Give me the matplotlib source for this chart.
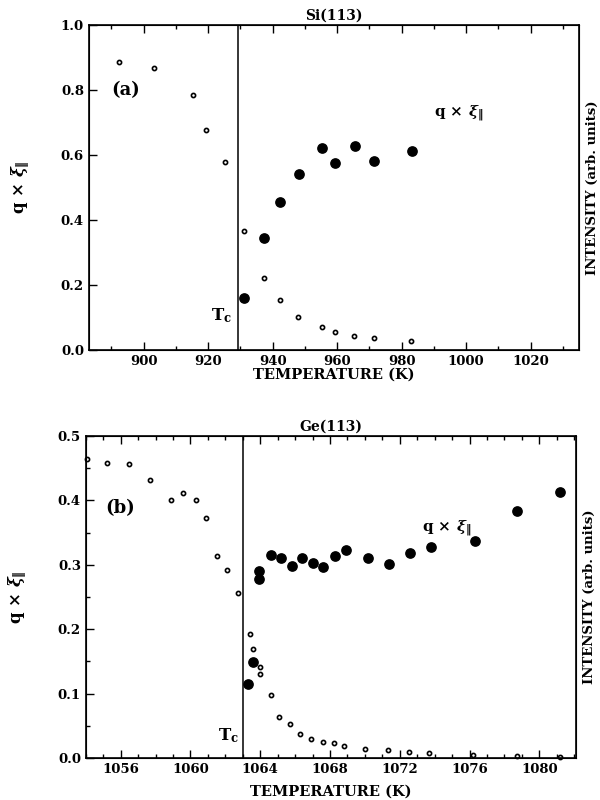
import numpy as np
import matplotlib
matplotlib.use('Agg')
import matplotlib.pyplot as plt
from matplotlib.ticker import MultipleLocator

plt.rcParams['font.family'] = 'DejaVu Serif'
plt.rcParams['font.weight'] = 'bold'
plt.rcParams['mathtext.fontset'] = 'dejavuserif'

# Si(113) - intensity (open circles)
si_int_T = [892.3, 903.1, 915.4, 919.4, 925.3, 931.1, 937.3, 942.3, 948.0, 955.2, 959.2, 965.1, 971.3, 983.0]
si_int_y = [0.886, 0.867, 0.785, 0.678, 0.579, 0.366, 0.221, 0.155, 0.101, 0.070, 0.055, 0.043, 0.036, 0.028]
# Si(113) - q x xi (filled circles)
si_q_T = [931.0, 937.3, 942.3, 948.1, 955.2, 959.2, 965.4, 971.3, 983.3]
si_q_y = [0.160, 0.344, 0.455, 0.541, 0.622, 0.575, 0.628, 0.582, 0.613]
si_Tc = 929.3

# Ge(113) - intensity
ge_int_T = [1054.06, 1055.2, 1056.5, 1057.7, 1058.9, 1059.6, 1060.3, 1060.9, 1061.5, 1062.1, 1062.7,
            1063.4, 1063.6, 1064.0, 1064.0, 1064.6, 1065.1, 1065.7, 1066.3, 1066.9, 1067.6, 1068.2,
            1068.8, 1070.0, 1071.3, 1072.5, 1073.7, 1076.2, 1078.7, 1081.2]
ge_int_y = [0.464, 0.458, 0.456, 0.431, 0.400, 0.412, 0.400, 0.372, 0.313, 0.292, 0.256,
            0.193, 0.169, 0.141, 0.130, 0.098, 0.064, 0.053, 0.037, 0.029, 0.025, 0.024,
            0.018, 0.0145, 0.0124, 0.0093, 0.0078, 0.0042, 0.003, 0.0016]
# Ge(113) - q x xi
ge_q_T = [1063.3, 1063.6, 1063.9, 1063.9, 1064.6, 1065.2, 1065.8, 1066.4, 1067.0, 1067.6, 1068.3,
          1068.9, 1070.2, 1071.4, 1072.6, 1073.8, 1076.3, 1078.7, 1081.2]
ge_q_y = [0.115, 0.149, 0.278, 0.290, 0.315, 0.311, 0.298, 0.311, 0.303, 0.297, 0.313,
          0.323, 0.310, 0.302, 0.319, 0.328, 0.337, 0.383, 0.413]
ge_Tc = 1063.0

qlabel = r'q $\times$ $\xi_{\Vert}$'

fig = plt.figure(figsize=(6, 8), dpi=100)
ax1 = fig.add_axes([0.148, 0.5625, 0.817, 0.40625])
ax2 = fig.add_axes([0.143, 0.0525, 0.817, 0.4025])


def style(ax):
    ax.tick_params(which='both', direction='in', top=True, right=False, labelsize=9.5, width=1)
    ax.tick_params(which='major', length=6)
    ax.tick_params(which='minor', length=3)
    for s in ax.spines.values():
        s.set_linewidth(1.2)
    for lab in ax.get_xticklabels() + ax.get_yticklabels():
        lab.set_fontweight('bold')


# panel (a)
ax1.plot(si_int_T, si_int_y, 'o', ms=3, mfc='white', mec='black', mew=1.2)
ax1.plot(si_q_T, si_q_y, 'o', ms=6.7, color='black')
ax1.axvline(si_Tc, color='black', lw=1.1)
ax1.set_xlim(883, 1035)
ax1.set_ylim(0, 1.0)
ax1.xaxis.set_major_locator(MultipleLocator(20))
ax1.xaxis.set_minor_locator(MultipleLocator(10))
ax1.yaxis.set_major_locator(MultipleLocator(0.2))
ax1.yaxis.set_major_formatter(plt.FormatStrFormatter('%.1f'))
style(ax1)
ax1.set_xlabel('TEMPERATURE (K)', fontsize=10.5, fontweight='bold', labelpad=0)
ax1.set_ylabel(qlabel, fontsize=12, fontweight='bold', labelpad=21)
ax1.set_title('Si(113)', fontsize=10, fontweight='bold', pad=4)
ax1.text(0.045, 0.785, '(a)', transform=ax1.transAxes, fontsize=13, fontweight='bold')
ax1.text(0.705, 0.72, qlabel, transform=ax1.transAxes, fontsize=11, fontweight='bold')
ax1.text(0.25, 0.09, r'T$_{\mathbf{c}}$', transform=ax1.transAxes, fontsize=12, fontweight='bold')
r1 = ax1.twinx()
r1.set_yticks([])
r1.set_ylabel('INTENSITY (arb. units)', fontsize=9.5, fontweight='bold', labelpad=5)

# panel (b)
ax2.plot(ge_int_T, ge_int_y, 'o', ms=3, mfc='white', mec='black', mew=1.2, clip_on=False)
ax2.plot(ge_q_T, ge_q_y, 'o', ms=6.7, color='black')
ax2.axvline(ge_Tc, color='black', lw=1.1)
ax2.set_xlim(1054, 1082.1)
ax2.set_ylim(0, 0.5)
ax2.xaxis.set_major_locator(MultipleLocator(4))
ax2.xaxis.set_minor_locator(MultipleLocator(1))
ax2.yaxis.set_major_locator(MultipleLocator(0.1))
ax2.yaxis.set_minor_locator(MultipleLocator(0.05))
ax2.yaxis.set_major_formatter(plt.FormatStrFormatter('%.1f'))
style(ax2)
ax2.set_xlabel('TEMPERATURE (K)', fontsize=10.5, fontweight='bold', labelpad=6)
ax2.set_ylabel(qlabel, fontsize=12, fontweight='bold', labelpad=21)
ax2.set_title('Ge(113)', fontsize=10, fontweight='bold', pad=4)
ax2.text(0.04, 0.76, '(b)', transform=ax2.transAxes, fontsize=13, fontweight='bold')
ax2.text(0.685, 0.705, qlabel, transform=ax2.transAxes, fontsize=11, fontweight='bold')
ax2.text(0.27, 0.055, r'T$_{\mathbf{c}}$', transform=ax2.transAxes, fontsize=12, fontweight='bold')
r2 = ax2.twinx()
r2.set_yticks([])
r2.set_ylabel('INTENSITY (arb. units)', fontsize=9.5, fontweight='bold', labelpad=5)

fig.savefig('out.png', dpi=100)
